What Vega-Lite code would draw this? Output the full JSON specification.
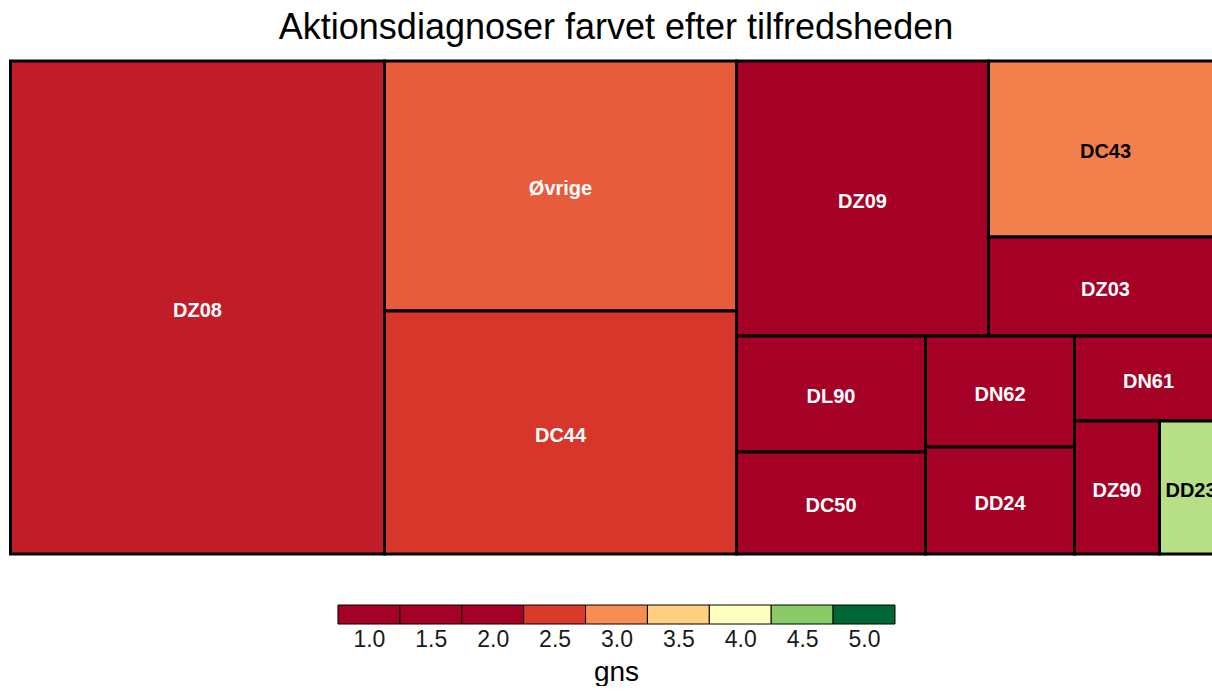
{
  "$schema": "https://vega.github.io/schema/vega-lite/v6.json",
  "padding": {"left": 5, "top": 9, "right": 0, "bottom": 0},
  "title": {"text": "Aktionsdiagnoser farvet efter tilfredsheden", "fontSize": 36, "font": "Liberation Sans", "fontWeight": "normal", "color": "black", "anchor": "middle", "offset": 11.5, "dx": 7.5},
  "config": {"view": {"stroke": null}, "font": "Liberation Sans"},
  "spacing": 47,
  "vconcat": [
    {
      "width": 1207,
      "height": 499,
      "data": {"values": [
        {"label": "DZ08", "gns": 2.25, "x0": 0, "x1": 374, "y0": 0, "y1": 493},
        {"label": "Øvrige", "gns": 2.71, "x0": 374, "x1": 726, "y0": 0, "y1": 250},
        {"label": "DC44", "gns": 2.47, "x0": 374, "x1": 726, "y0": 250, "y1": 493},
        {"label": "DZ09", "gns": 1.5, "x0": 726, "x1": 978, "y0": 0, "y1": 275},
        {"label": "DC43", "gns": 2.92, "x0": 978, "x1": 1212, "y0": 0, "y1": 176},
        {"label": "DZ03", "gns": 1.6, "x0": 978, "x1": 1212, "y0": 176, "y1": 275},
        {"label": "DL90", "gns": 1.7, "x0": 726, "x1": 915, "y0": 275, "y1": 391},
        {"label": "DC50", "gns": 1.8, "x0": 726, "x1": 915, "y0": 391, "y1": 493},
        {"label": "DN62", "gns": 1.6, "x0": 915, "x1": 1064, "y0": 275, "y1": 386},
        {"label": "DD24", "gns": 1.9, "x0": 915, "x1": 1064, "y0": 386, "y1": 493},
        {"label": "DN61", "gns": 1.7, "x0": 1064, "x1": 1212, "y0": 275, "y1": 360},
        {"label": "DZ90", "gns": 1.5, "x0": 1064, "x1": 1149, "y0": 360, "y1": 493},
        {"label": "DD23", "gns": 4.31, "x0": 1149, "x1": 1212, "y0": 360, "y1": 493}
      ]},
      "transform": [
        {"calculate": "(datum.x0 + datum.x1) / 2", "as": "cx"},
        {"calculate": "(datum.y0 + datum.y1) / 2", "as": "cy"}
      ],
      "layer": [
        {
          "mark": {"type": "rect", "stroke": "black", "strokeWidth": 3, "clip": true},
          "encoding": {
            "x": {"field": "x0", "type": "quantitative", "scale": {"domain": [-5.5, 1201.5], "nice": false, "zero": false}, "axis": null},
            "x2": {"field": "x1"},
            "y": {"field": "y0", "type": "quantitative", "scale": {"domain": [-3, 496], "reverse": true, "nice": false, "zero": false}, "axis": null},
            "y2": {"field": "y1"},
            "color": {"field": "gns", "type": "quantitative", "legend": null,
              "scale": {"type": "linear", "interpolate": "rgb", "domain": [1, 2, 2.5, 3, 3.5, 4, 4.5, 5], "range": ["#A50026", "#A50026", "#DA3A2A", "#F88D52", "#FDD17F", "#FFFFBF", "#8ACB65", "#006837"]}}
          }
        },
        {
          "mark": {"type": "text", "fontWeight": "bold", "fontSize": 20, "font": "Liberation Sans", "clip": true, "dy": 3},
          "encoding": {
            "x": {"field": "cx", "type": "quantitative", "scale": {"domain": [-5.5, 1201.5], "nice": false, "zero": false}, "axis": null},
            "y": {"field": "cy", "type": "quantitative", "scale": {"domain": [-3, 496], "reverse": true, "nice": false, "zero": false}, "axis": null},
            "text": {"field": "label"},
            "color": {"condition": {"test": "datum.gns > 2.8", "value": "black"}, "value": "white"}
          }
        }
      ]
    },
    {
      "width": 1207,
      "height": 19,
      "data": {"values": [
        {"gns": 1.0, "lo": 0.75, "hi": 1.25},
        {"gns": 1.5, "lo": 1.25, "hi": 1.75},
        {"gns": 2.0, "lo": 1.75, "hi": 2.25},
        {"gns": 2.5, "lo": 2.25, "hi": 2.75},
        {"gns": 3.0, "lo": 2.75, "hi": 3.25},
        {"gns": 3.5, "lo": 3.25, "hi": 3.75},
        {"gns": 4.0, "lo": 3.75, "hi": 4.25},
        {"gns": 4.5, "lo": 4.25, "hi": 4.75},
        {"gns": 5.0, "lo": 4.75, "hi": 5.25}
      ]},
      "mark": {"type": "rect", "stroke": "black", "strokeWidth": 1},
      "encoding": {
        "x": {"field": "lo", "type": "quantitative", "scale": {"domain": [-1.94, 7.811], "nice": false, "zero": false},
          "axis": {"values": [1, 1.5, 2, 2.5, 3, 3.5, 4, 4.5, 5], "format": ".1f", "ticks": false, "domain": false, "grid": false, "labelFlush": false,
            "labelFontSize": 23, "labelFont": "Liberation Sans", "labelColor": "#1a1a1a", "labelPadding": 4,
            "title": "gns", "titleFontSize": 28, "titleFont": "Liberation Sans", "titleFontWeight": "normal", "titleColor": "black", "titlePadding": 7, "titleX": 611}},
        "x2": {"field": "hi"},
        "color": {"field": "gns", "type": "quantitative", "legend": null,
          "scale": {"type": "linear", "interpolate": "rgb", "domain": [1, 2, 2.5, 3, 3.5, 4, 4.5, 5], "range": ["#A50026", "#A50026", "#DA3A2A", "#F88D52", "#FDD17F", "#FFFFBF", "#8ACB65", "#006837"]}}
      }
    }
  ]
}
